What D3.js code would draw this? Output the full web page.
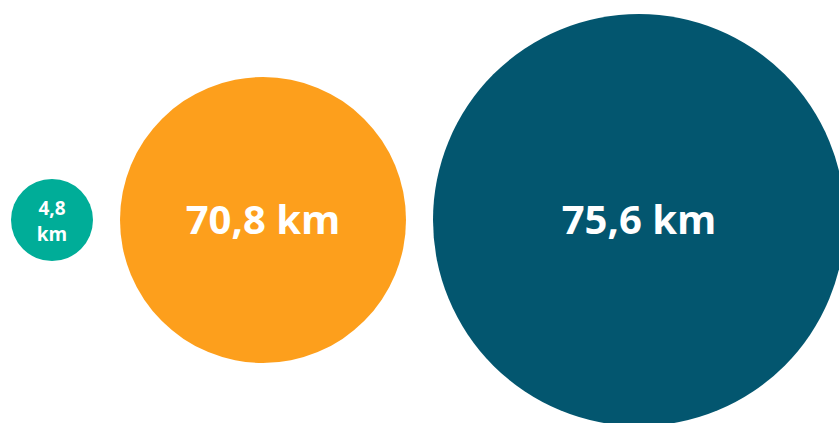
<!DOCTYPE html>
<html>
<head>
<meta charset="utf-8">
<script src="https://cdn.jsdelivr.net/npm/d3@7"></script>
<style>
  html, body { margin: 0; padding: 0; background: #fff; }
  svg { display: block; }
  text { font-family: "Open Sans", sans-serif; font-weight: 700; fill: #fff; }
</style>
</head>
<body>
<div class="container"></div>
<script>
const width = 839,
    height = 423;

// distances in km
const values = [4.8, 70.8, 75.6];
const labels = ['4,8 km', '70,8 km', '75,6 km'];
const colors = ['#00ad98', '#fd9f1c', '#03566f'];

const svg = d3.select('.container')
    .append('svg')
    .attr('width', width)
    .attr('height', height);

// circle sizes in the original are not strictly proportional
const radius = d3.scaleLinear()
    .domain(values)
    .range([41, 143, 206]);

const gap = 27,
    left = 11,
    cy = 220;

let cursor = left;
const nodes = values.map((v, i) => {
    const r = radius(v);
    const cx = cursor + r;
    cursor = cx + r + gap;
    return { value: v, label: labels[i], color: colors[i], r, cx };
});

const g = svg.selectAll('g.bubble')
    .data(nodes)
    .enter()
    .append('g')
    .attr('class', 'bubble')
    .attr('transform', d => `translate(${d.cx},${cy})`);

g.append('circle')
    .attr('r', d => d.r)
    .attr('fill', d => d.color);

g.each(function(d) {
    const t = d3.select(this).append('text')
        .attr('text-anchor', 'middle');
    if (d.r < 60) {
        // small bubble: number and unit on two lines
        const parts = d.label.split(' ');
        t.style('font-size', '19px');
        t.append('tspan').attr('x', 0).attr('y', -5).text(parts[0]);
        t.append('tspan').attr('x', 0).attr('y', 21).text(parts[1]);
    } else {
        t.style('font-size', '40px')
            .attr('y', 14)
            .text(d.label);
    }
});
</script>
</body>
</html>
